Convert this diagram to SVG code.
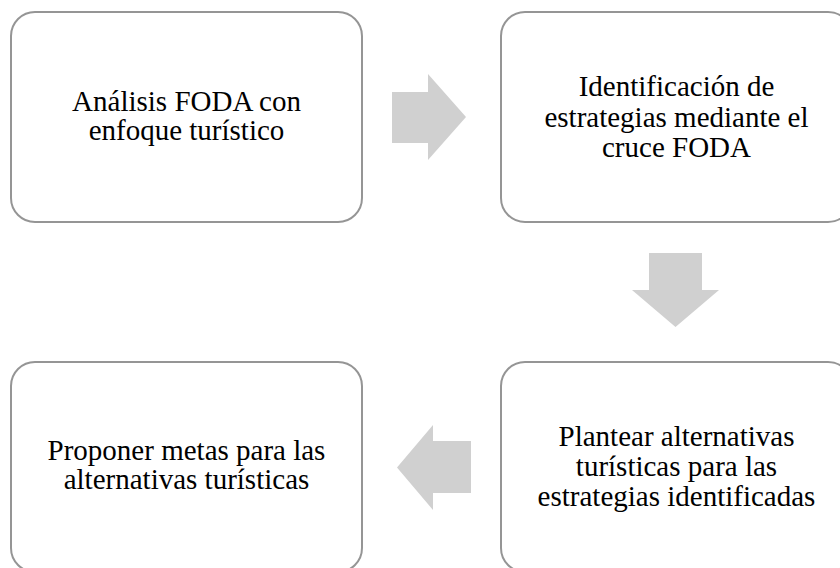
<svg xmlns="http://www.w3.org/2000/svg" width="840" height="568" viewBox="0 0 840 568">
<style>
.box{fill:#fff;stroke:#959595;stroke-width:2}
.t{font-family:"Liberation Serif","Times New Roman",serif;font-size:29px;fill:#000;text-anchor:middle}
.arr{fill:#d0d0d0}
</style>
<rect width="840" height="568" fill="#fff"/>
<g id="connectors">
<polygon class="arr" points="392,92 428,92 428,74 466,117 428,160 428,143 392,143"/>
<polygon class="arr" points="649,253 702,253 702,290 719,290 675.5,327 632,290 649,290"/>
<polygon class="arr" points="471,441 433,441 433,425 397,467.5 433,510 433,493 471,493"/>
</g>
<g id="node1">
<rect class="box" x="11" y="12" width="351" height="210" rx="24"/>
<text class="t" x="186.5" y="111">Análisis FODA con</text>
<text class="t" x="186.5" y="140">enfoque turístico</text>
</g>
<g id="node2">
<rect class="box" x="501" y="12" width="351" height="210" rx="24"/>
<text class="t" x="676.5" y="96">Identificación de</text>
<text class="t" x="676.5" y="126.5">estrategias mediante el</text>
<text class="t" x="676.5" y="157">cruce FODA</text>
</g>
<g id="node3">
<rect class="box" x="501" y="362" width="351" height="210" rx="24"/>
<text class="t" x="676.5" y="446">Plantear alternativas</text>
<text class="t" x="676.5" y="476">turísticas para las</text>
<text class="t" x="676.5" y="506">estrategias identificadas</text>
</g>
<g id="node4">
<rect class="box" x="11" y="362" width="351" height="210" rx="24"/>
<text class="t" x="186.5" y="460">Proponer metas para las</text>
<text class="t" x="186.5" y="489">alternativas turísticas</text>
</g>
</svg>
